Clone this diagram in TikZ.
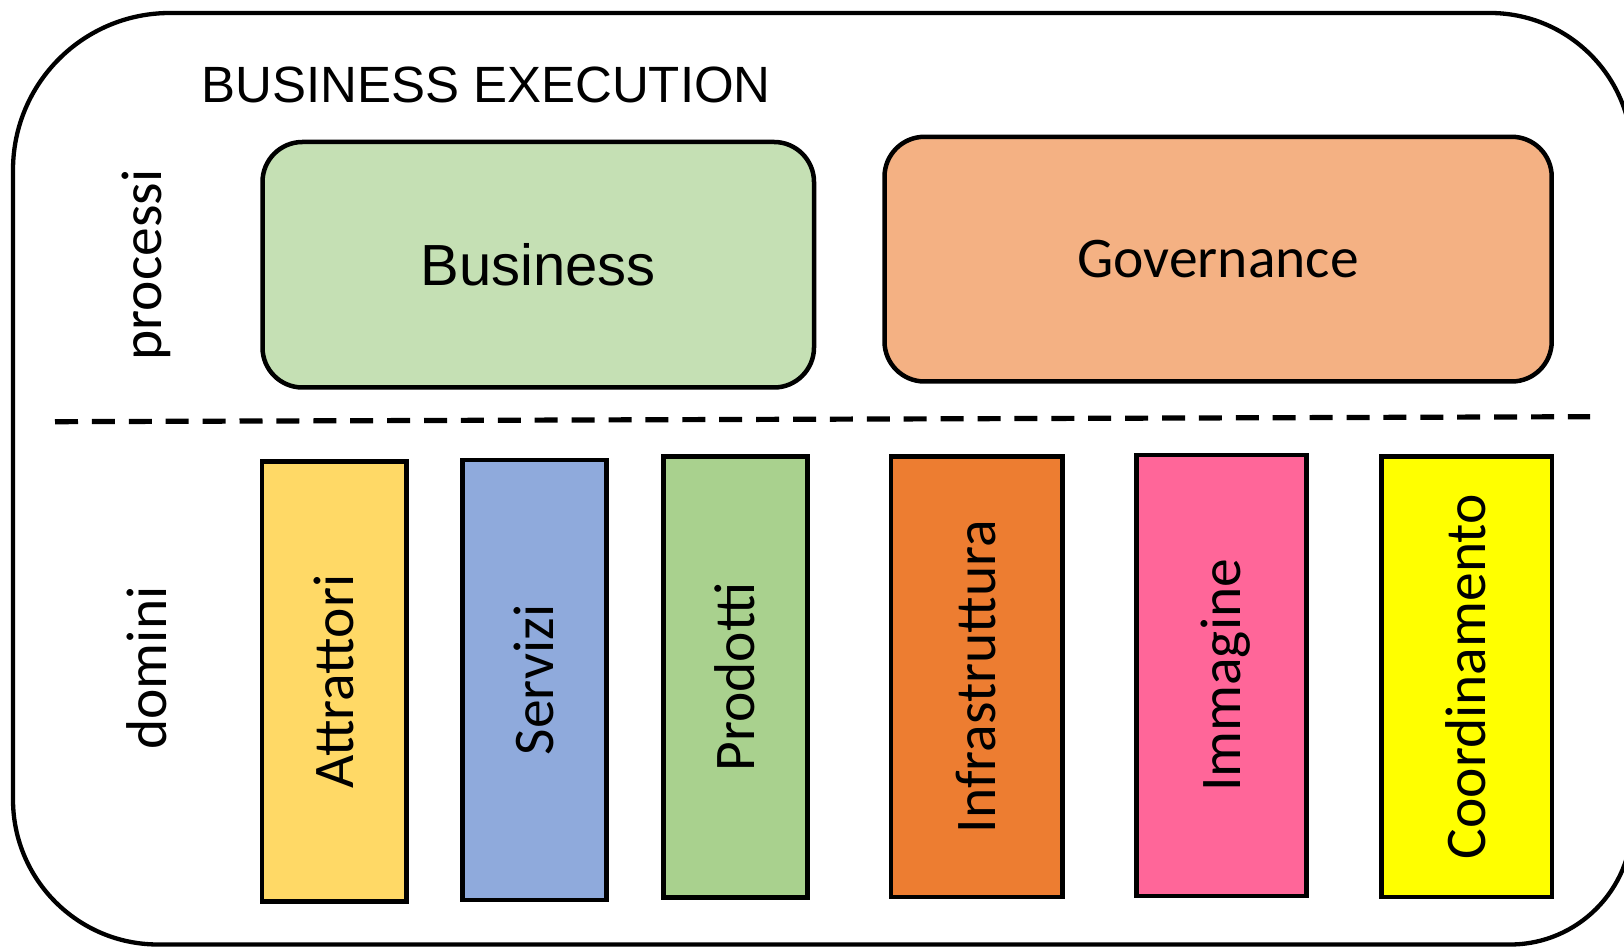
\documentclass[tikz,border=0pt]{standalone}
\usepackage{fontspec}
\setmainfont{Liberation Sans}
\newfontfamily\calib{Carlito}
\definecolor{cbus}{HTML}{C5E0B4}
\definecolor{cgov}{HTML}{F4B183}
\definecolor{catt}{HTML}{FFD966}
\definecolor{cser}{HTML}{8FAADC}
\definecolor{cpro}{HTML}{A9D18E}
\definecolor{cinf}{HTML}{ED7D31}
\definecolor{cimm}{HTML}{FF6699}
\definecolor{ccoo}{HTML}{FFFF00}
\begin{document}
\begin{tikzpicture}[x=1bp,y=1bp,
  rbox/.style={draw=black, line width=4.5bp, rounded corners=40bp, inner sep=0pt},
  dbox/.style={draw=black, line width=4.5bp, inner sep=0pt, rotate=90,
    font=\calib\fontsize{57.5bp}{60bp}\selectfont, text height=38bp, text depth=0pt},
  side/.style={inner sep=0pt, rotate=90, anchor=base,
    font=\calib\fontsize{57.5bp}{60bp}\selectfont},
  sepline/.style={line width=5.2bp, dash pattern=on 23bp off 13.9bp}]
\useasboundingbox (0,0) rectangle (1624,946);
\clip (0,0) rectangle (1624,946);
% outer frame
\draw[line width=4.3bp] (170,933) -- (1490,933)
  arc[start angle=90,end angle=0,radius=142bp] -- (1632,123.5)
  arc[start angle=0,end angle=-90,radius=122bp] -- (158,1.5)
  arc[start angle=270,end angle=180,radius=145bp] -- (13,776)
  arc[start angle=180,end angle=90,radius=157bp] -- cycle;
% title
\node[inner sep=0pt, anchor=base west, font=\fontsize{51bp}{60bp}\selectfont] (title) at (201,843.7) {BUSINESS EXECUTION};
% side labels
\node[side] (processi) at (161,681) {processi};
\node[side] (domini) at (166,278) {domini};
% process boxes
\node[rbox, fill=cbus, minimum width=551.5bp, minimum height=245.5bp,
  font=\fontsize{58bp}{60bp}\selectfont, text height=41.5bp, text depth=0pt] (business) at (538.25,681.25) {Business};
\node[rbox, fill=cgov, minimum width=667.2bp, minimum height=244.7bp,
  font=\calib\fontsize{57.5bp}{60bp}\selectfont, text height=37bp, text depth=0pt] (governance) at (1218.1,686.85) {Governance};
% separator
\coordinate (sepL) at (55,524.3);
\coordinate (sepR) at (1590,529.3);
\draw[sepline] (sepL) -- (sepR);
% domain boxes
\node[dbox, fill=catt, minimum width=440bp, minimum height=144.8bp] (attrattori) at (334.2,264.5) {Attrattori};
\node[dbox, fill=cser, minimum width=440bp, minimum height=144.4bp] (servizi) at (534.5,266.2) {Servizi};
\node[dbox, fill=cpro, minimum width=441bp, minimum height=143.9bp] (prodotti) at (735.35,269) {Prodotti};
\node[dbox, fill=cinf, minimum width=440.3bp, minimum height=171.5bp] (infrastruttura) at (976.95,269.35) {Infrastruttura};
\node[dbox, fill=cimm, minimum width=440.6bp, minimum height=170bp] (immagine) at (1221.6,270.5) {Immagine};
\node[dbox, fill=ccoo, minimum width=440.3bp, minimum height=170.5bp] (coordinamento) at (1466.75,269.35) {Coordinamento};
\end{tikzpicture}
\end{document}
